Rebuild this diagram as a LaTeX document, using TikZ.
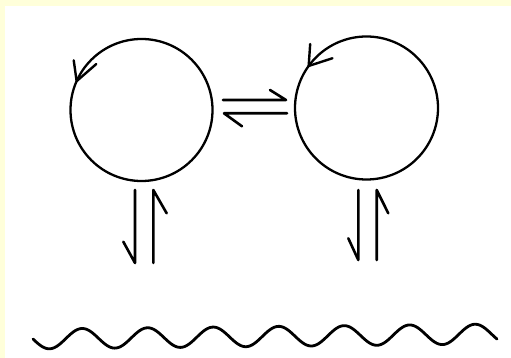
\documentclass[tikz,border=0pt]{standalone}
\usetikzlibrary{calc}
\definecolor{frameyellow}{RGB}{255,255,218}
\tikzset{
  ring/.style={circle, draw=black, line width=2.3pt, minimum size=142pt, inner sep=0pt},
  harp/.style={draw=black, line width=2.6pt, line cap=round, line join=round},
  barb/.style={draw=black, line width=2.4pt, line cap=round, line join=round},
  wave/.style={draw=black, line width=2.8pt, line cap=round},
}
\begin{document}
\begin{tikzpicture}[x=1pt, y=1pt]
\useasboundingbox (0,0) rectangle (511,358);
\fill[frameyellow] (0,0) rectangle (511,358);
\fill[white] (5,0) rectangle (511,352);

% circles
\node[ring] (c1) at (141.5,248) {};
\node[ring, minimum size=143pt] (c2) at (366.5,250) {};

% circulation arrows
\coordinate (t1) at ($(c1.center)+(156:71)$);
\draw[barb] ($(t1)+(98:21)$) -- (t1) -- ($(t1)+(41:26)$);
\coordinate (t2) at ($(c2.center)+(144:71.5)$);
\draw[barb] ($(t2)+(86:22)$) -- (t2) -- ($(t2)+(18:25)$);

% horizontal equilibrium harpoons
\coordinate (h1s) at (223,258);
\coordinate (h1e) at (286,258);
\coordinate (h2s) at (287,244.7);
\coordinate (h2e) at (224,244.7);
\draw[harp] (h1s) -- (h1e) -- ++(-16,10);
\draw[harp] (h2s) -- (h2e) -- ++(18,-13);

% left vertical harpoons
\coordinate (v1s) at (135,168);
\coordinate (v1e) at (135,95);
\coordinate (v2s) at (153.3,95);
\coordinate (v2e) at (153.3,168);
\draw[harp] (v1s) -- (v1e) -- ++(-11.7,21.3);
\draw[harp] (v2s) -- (v2e) -- ++(13.4,-23.3);

% right vertical harpoons
\coordinate (v3s) at (358.3,168);
\coordinate (v3e) at (358.3,98);
\coordinate (v4s) at (376.7,98);
\coordinate (v4e) at (376.7,168);
\draw[harp] (v3s) -- (v3e) -- ++(-10,21.7);
\draw[harp] (v4s) -- (v4e) -- ++(11.6,-23.3);

% wavy line
\draw[wave] plot[domain=33:497, samples=240, smooth]
  (\x, {19 + (\x-33)/464*5 - 10*sin((\x-33)/65.5*360)});
\end{tikzpicture}
\end{document}
